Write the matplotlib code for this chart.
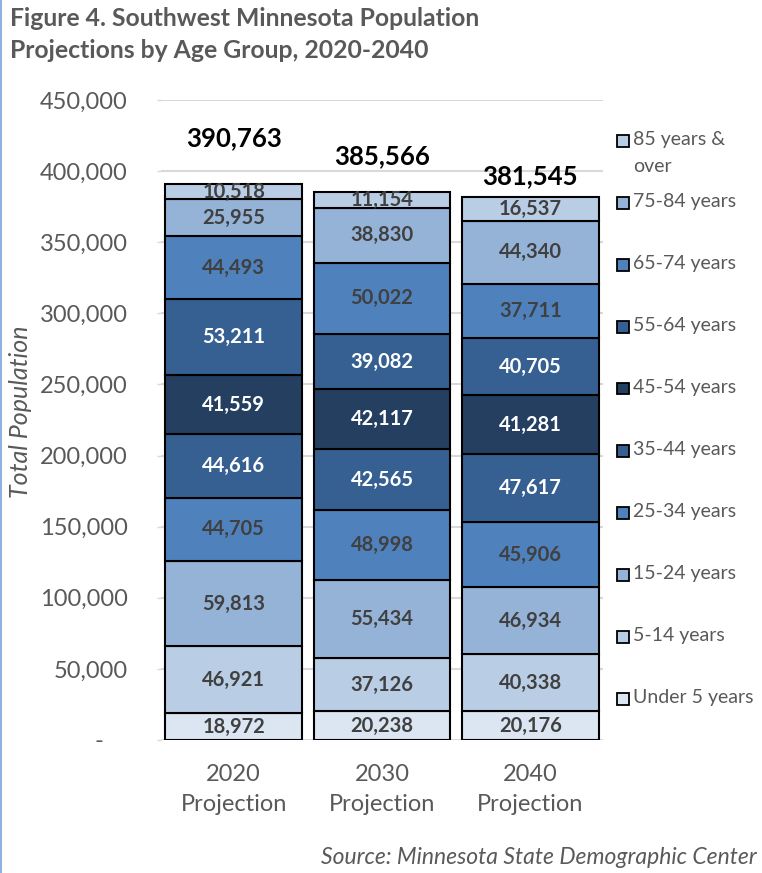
import matplotlib
matplotlib.use("Agg")
import matplotlib.pyplot as plt
import numpy as np
from matplotlib.patches import Rectangle

plt.rcParams['font.family'] = ['Lato', 'DejaVu Sans']

years = ["2020\nProjection", "2030\nProjection", "2040\nProjection"]
groups = ["Under 5 years", "5-14 years", "15-24 years", "25-34 years", "35-44 years",
          "45-54 years", "55-64 years", "65-74 years", "75-84 years", "85 years &\nover"]
under5 = [18972, 20238, 20176]
y5_14 = [46921, 37126, 40338]
y15_24 = [59813, 55434, 46934]
y25_34 = [44705, 48998, 45906]
y35_44 = [44616, 42565, 47617]
y45_54 = [41559, 42117, 41281]
y55_64 = [53211, 39082, 40705]
y65_74 = [44493, 50022, 37711]
y75_84 = [25955, 38830, 44340]
y85 = [10518, 11154, 16537]
totals = [390763, 385566, 381545]
total_offsets = [46, 35, 21]  # px above bar top, as in the original

series = [under5, y5_14, y15_24, y25_34, y35_44, y45_54, y55_64, y65_74, y75_84, y85]
colors = ["#dce6f2", "#b9cde5", "#95b3d7", "#4f81bd", "#366092",
          "#243f60", "#366092", "#4f81bd", "#95b3d7", "#b9cde5"]
txtcol = ["#404040"] * 4 + ["white"] * 3 + ["#404040"] * 3
grey = "#595959"

fig = plt.figure(figsize=(7.62, 8.73), dpi=100)
ax = fig.add_axes([161/762, 1-740/873, (603-161)/762, (740-100)/873])

x = np.arange(len(years))
bottom = np.zeros(len(years))
for vals, c, tc in zip(series, colors, txtcol):
    vals = np.array(vals)
    ax.bar(x, vals, width=0.92, bottom=bottom, color=c, edgecolor="black", linewidth=1.5, zorder=3)
    for xi, b, v in zip(x, bottom, vals):
        ax.text(xi, b + v/2, f"{v:,}", ha="center", va="center", fontsize=14.5,
                fontweight="bold", color=tc, zorder=4)
    bottom += vals

for xi, t, off in zip(x, totals, total_offsets):
    ax.annotate(f"{t:,}", (xi, t), xytext=(0, off*0.72), textcoords="offset points",
                ha="center", va="center", fontsize=18.5, fontweight="bold", color="black")

ax.set_ylim(0, 450000)
ax.set_xlim(-0.49, 2.49)
ax.set_yticks(np.arange(0, 450001, 50000))
ax.set_yticklabels(["-    "] + [f"{v:,}" for v in np.arange(50000, 450001, 50000)])
ax.set_xticks(x)
ax.set_xticklabels(years, linespacing=1.55)
ax.tick_params(axis="y", labelsize=17, colors="#d9d9d9", labelcolor=grey, length=3, width=1, pad=21)
ax.tick_params(axis="x", labelsize=17, labelcolor=grey, length=0, pad=17)
ax.grid(axis="y", color="#d9d9d9", linewidth=1.5, zorder=0)
for s in ax.spines.values():
    s.set_visible(False)
ax.set_ylabel("Total Population", fontsize=18, fontstyle="italic", color=grey)
ax.yaxis.set_label_coords(-0.292, 0.5125)

# legend drawn as a column on the right
for i, (lab, c) in enumerate(zip(groups[::-1], colors[::-1])):
    ypx = 140 + 62*i
    fig.add_artist(Rectangle((617/762, 1-(ypx+6.5)/873), 12/762, 12/873, transform=fig.transFigure,
                             facecolor=c, edgecolor="black", linewidth=1.3))
    fig.text(633/762, 1-(ypx-9)/873, lab, ha="left", va="top", fontsize=14, color=grey, linespacing=1.75)

fig.text(10/762, 1-7/873, "Figure 4. Southwest Minnesota Population\nProjections by Age Group, 2020-2040",
         ha="left", va="top", fontsize=17.8, fontweight="bold", color=grey, linespacing=1.45)
fig.text(757/762, 1-857/873, "Source: Minnesota State Demographic Center", ha="right", va="center",
         fontsize=16.5, fontstyle="italic", color=grey)
fig.add_artist(plt.Line2D([1/762, 1/762], [0, 1], transform=fig.transFigure, color="#8db3e2", linewidth=1.5))

fig.savefig("out.png", dpi=100)
